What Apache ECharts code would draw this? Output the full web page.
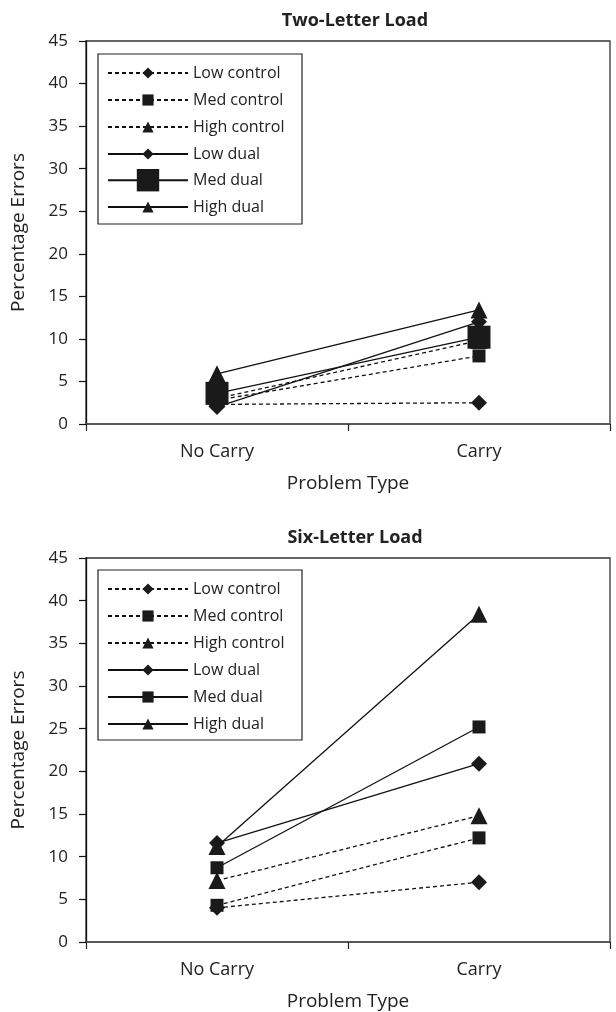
<!DOCTYPE html>
<html>
<head>
<meta charset="utf-8">
<script src="https://cdn.jsdelivr.net/npm/echarts@6/dist/echarts.min.js"></script>
<style>html,body{margin:0;padding:0;background:#fff}#c{width:616px;height:1012px}</style>
</head>
<body>
<div id="c"></div>
<script>
const categories = ['No Carry', 'Carry'];
const yTicks = [0, 5, 10, 15, 20, 25, 30, 35, 40, 45];
const seriesNames = ['Low control', 'Med control', 'High control', 'Low dual', 'Med dual', 'High dual'];
const titles = ['Two-Letter Load', 'Six-Letter Load'];

// Two-letter load
const twoLowControl = [2.3, 2.5];
const twoMedControl = [2.8, 8.0];
const twoHighControl = [3.0, 9.8];
const twoLowDual = [2.0, 12.0];
const twoMedDual = [3.6, 10.2];
const twoHighDual = [5.9, 13.4];

// Six-letter load
const sixLowControl = [4.0, 7.0];
const sixMedControl = [4.3, 12.2];
const sixHighControl = [7.2, 14.8];
const sixLowDual = [11.6, 20.9];
const sixMedDual = [8.7, 25.2];
const sixHighDual = [11.2, 38.4];

const FONT = '"Open Sans", "Noto Sans", sans-serif';
const symbols = ['diamond', 'rect', 'triangle', 'diamond', 'rect', 'triangle'];
const sizes = [16, 13, 17, 16, 13, 17];

function mkSeries(dataSets, gridIdx, bigMed) {
  return dataSets.map((d, i) => ({
    type: 'line',
    name: seriesNames[i] + (gridIdx ? ' ' : ''),
    xAxisIndex: gridIdx, yAxisIndex: gridIdx,
    data: d,
    symbol: symbols[i],
    symbolSize: (bigMed && i === 4) ? 23 : sizes[i],
    showSymbol: true,
    lineStyle: { color: '#111', width: 1.3, type: i < 3 ? [4, 3] : 'solid' },
    itemStyle: { color: '#1a1a1a' },
    z: 2 + i,
    animation: false
  }));
}

const grids = [
  { left: 86, right: 6, top: 41, height: 383 },
  { left: 86, right: 6, top: 558, height: 384 }
];

function xAxis(i) {
  return {
    type: 'category', gridIndex: i, data: categories, boundaryGap: true,
    axisLine: { lineStyle: { color: '#555', width: 1.5 } },
    axisTick: { show: true, length: 7, lineStyle: { color: '#222', width: 1.2 } },
    axisLabel: { color: '#222', fontSize: 18, fontFamily: FONT, margin: 19 },
    name: 'Problem Type', nameLocation: 'middle', nameGap: 50,
    nameTextStyle: { color: '#222', fontSize: 19, fontFamily: FONT }
  };
}
function yAxis(i) {
  return {
    type: 'value', gridIndex: i, min: yTicks[0], max: yTicks[yTicks.length - 1], interval: 5,
    axisLine: { show: true, lineStyle: { color: '#111', width: 1.3 } },
    axisTick: { show: true, length: 7, lineStyle: { color: '#111', width: 1.2 } },
    splitLine: { show: false },
    axisLabel: { color: '#222', fontSize: 17, fontFamily: FONT, margin: 18 },
    name: 'Percentage Errors', nameLocation: 'middle', nameGap: 58,
    nameTextStyle: { color: '#222', fontSize: 19, fontFamily: FONT }
  };
}

const legendText = { color: '#222', fontSize: 16, fontFamily: FONT };
function legendBase(names, top, itemHeight) {
  return {
    data: names, left: 107, top: top, orient: 'vertical', padding: 0,
    itemWidth: 80, itemHeight: itemHeight, itemGap: 27 - Math.max(itemHeight, 16),
    textStyle: legendText, selectedMode: false
  };
}

const option = {
  animation: false,
  backgroundColor: '#fff',
  title: [
    { text: titles[0], left: 350, textAlign: 'center', top: 7, textStyle: { fontSize: 18, fontWeight: 'bold', color: '#222', fontFamily: FONT } },
    { text: titles[1], left: 350, textAlign: 'center', top: 524, textStyle: { fontSize: 18, fontWeight: 'bold', color: '#222', fontFamily: FONT } }
  ],
  grid: grids.map(g => Object.assign({ show: true, borderColor: '#333', borderWidth: 1.3, backgroundColor: 'transparent' }, g)),
  xAxis: [xAxis(0), xAxis(1)],
  yAxis: [yAxis(0), yAxis(1)],
  legend: [
    legendBase(seriesNames.slice(0, 4), 65, 14),
    legendBase([seriesNames[4]], 169, 28),
    legendBase([seriesNames[5]], 199, 14),
    legendBase(seriesNames.map(n => n + ' '), 581, 14)
  ],
  graphic: [
    { type: 'rect', shape: { x: 98, y: 54, width: 204, height: 170 }, style: { fill: 'none', stroke: '#222', lineWidth: 1.2 }, z: 100 },
    { type: 'rect', shape: { x: 98, y: 570, width: 204, height: 170 }, style: { fill: 'none', stroke: '#222', lineWidth: 1.2 }, z: 100 }
  ],
  series: [
    ...mkSeries([twoLowControl, twoMedControl, twoHighControl, twoLowDual, twoMedDual, twoHighDual], 0, true),
    ...mkSeries([sixLowControl, sixMedControl, sixHighControl, sixLowDual, sixMedDual, sixHighDual], 1, false)
  ]
};
option.legend[3].formatter = n => n.trim();

const chart = echarts.init(document.getElementById('c'), null, { renderer: 'canvas' });
chart.setOption(option);
</script>
</body>
</html>
